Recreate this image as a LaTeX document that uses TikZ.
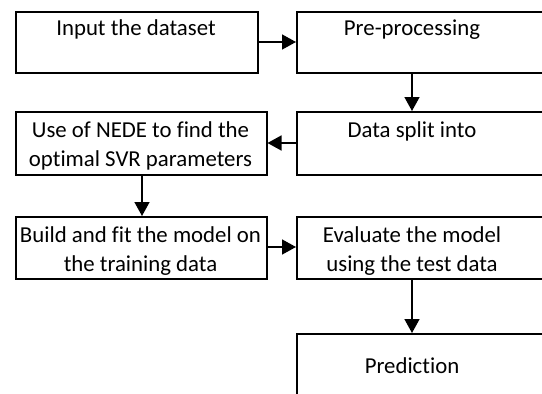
\documentclass[tikz,border=0pt]{standalone}
\usepackage{fontspec}
\setmainfont{Carlito}[RawFeature=-liga]
\usetikzlibrary{arrows.meta}
\begin{document}
\begin{tikzpicture}[x=1pt,y=-1pt,
  box/.style={draw,line width=1.5pt,rectangle,inner sep=0pt,anchor=north west},
  lbl/.style={inner sep=0pt,anchor=base,align=center,
    font=\fontsize{22.8}{29.5}\selectfont},
  arr/.style={line width=1.5pt,-{Triangle[length=14pt,width=15pt]}}]
  \useasboundingbox (0,0) rectangle (542,394);
  \clip (0,0) rectangle (542,394);

  % process boxes (the right column runs off the page edge)
  \node[box,minimum width=242pt,minimum height=61pt] (input) at (15,11) {};
  \node[box,minimum width=260pt,minimum height=61pt] (pre)   at (296,11) {};
  \node[box,minimum width=251pt,minimum height=63pt] (nede)  at (15,111) {};
  \node[box,minimum width=260pt,minimum height=63pt] (split) at (296,111) {};
  \node[box,minimum width=251pt,minimum height=62pt] (build) at (15,216) {};
  \node[box,minimum width=260pt,minimum height=62pt] (eval)  at (296,216) {};
  \node[box,minimum width=260pt,minimum height=80pt] (pred)  at (296,333) {};

  % box texts (base anchor sits on the last line's baseline)
  \node[lbl] (inputT) at (136,35)  {Input the dataset};
  \node[lbl] (preT)   at (412,35)  {Pre-processing};
  \node[lbl] (nedeT)  at (140.5,166.5) {Use of NEDE to find the\\optimal SVR parameters};
  \node[lbl] (splitT) at (412,137) {Data split into};
  \node[lbl] (buildT) at (140.5,271.5) {Build and fit the model on\\the training data};
  \node[lbl] (evalT)  at (412,271.5) {Evaluate the model\\using the test data};
  \node[lbl] (predT)  at (412,373) {Prediction};

  % connectors
  \draw[arr] (input.east |- 0,42) -- (pre.west |- 0,42);
  \draw[arr] (pre.south -| preT) -- (split.north -| preT);
  \draw[arr] (split.west |- 0,143) -- (nede.east |- 0,143);
  \draw[arr] (nede.south -| 142,0) -- (build.north -| 142,0);
  \draw[arr] (build.east |- 0,247) -- (eval.west |- 0,247);
  \draw[arr] (eval.south -| evalT) -- (pred.north -| evalT);
\end{tikzpicture}
\end{document}
